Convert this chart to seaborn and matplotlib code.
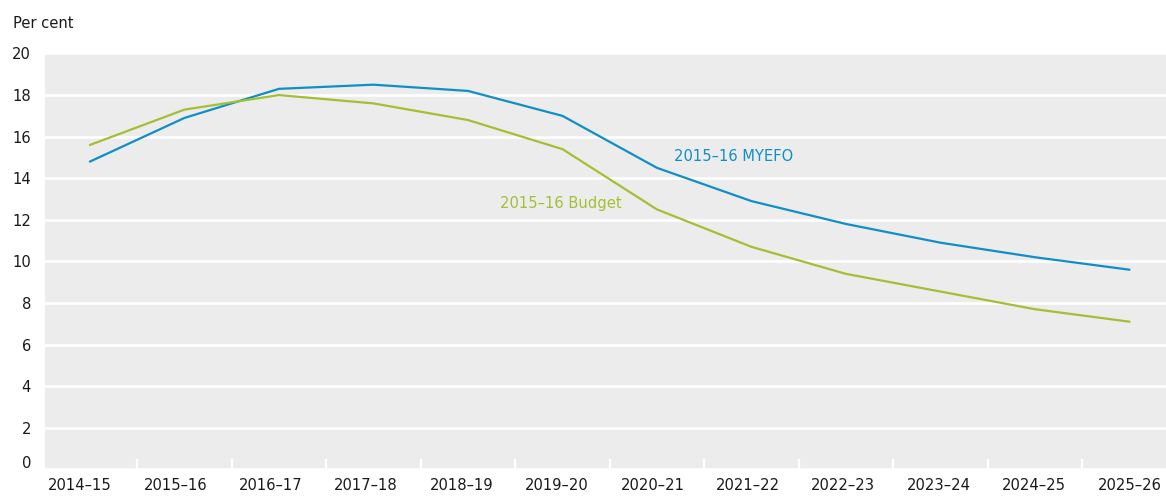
import numpy as np
import pandas as pd
import matplotlib
matplotlib.use("Agg")
import matplotlib.pyplot as plt
import matplotlib.transforms as mtransforms
from matplotlib import font_manager as fm
import seaborn as sns

years = ["2014–15", "2015–16", "2016–17", "2017–18", "2018–19", "2019–20",
         "2020–21", "2021–22", "2022–23", "2023–24", "2024–25", "2025–26"]
myefo = [14.8, 16.9, 18.3, 18.5, 18.2, 17.0, 14.5, 12.9, 11.8, 10.9, 10.2, 9.6]
budget = [15.6, 17.3, 18.0, 17.6, 16.8, 15.4, 12.5, 10.7, 9.4, 8.55, 7.7, 7.1]
series_names = ["2015–16 MYEFO", "2015–16 Budget"]
y_ticks = [0, 2, 4, 6, 8, 10, 12, 14, 16, 18, 20]

BLUE = "#0f8fc6"
GREEN = "#a3bf33"
BG = "#ececec"
TXT = "#1a1a1a"

sns.set_theme(style="darkgrid", rc={
    "axes.facecolor": BG,
    "grid.color": "white",
    "grid.linewidth": 1.9,
    "figure.facecolor": "white",
})

# pick a condensed sans font if one is installed
def _find_condensed():
    best = None
    for f in fm.fontManager.ttflist:
        fn = f.fname.lower()
        nm = f.name.lower()
        if f.style != "normal" or f.weight not in (400, "normal", "regular", "book"):
            continue
        if "liberation" in nm and "narrow" in (nm + fn):
            return f.fname, 13.5
        if "dejavu" in nm and "condensed" in fn and "sans" in fn and "mono" not in fn:
            best = (f.fname, 11.8)
    return best

found = _find_condensed()
if found:
    FP = lambda: fm.FontProperties(fname=found[0], size=found[1])
else:
    FP = lambda: fm.FontProperties(family="Liberation Sans", size=11.6)
plt.rcParams["font.family"] = ["Liberation Sans", "DejaVu Sans"]

df = pd.DataFrame({
    "idx": list(range(len(years))) * 2,
    "value": myefo + budget,
    "series": [series_names[0]] * len(years) + [series_names[1]] * len(years),
})

fig = plt.figure(figsize=(11.66, 4.96), dpi=100)
ax = fig.add_axes([45 / 1166, 1 - 469.3 / 496, 1 - 45 / 1166, (469.3 - 53.5) / 496])

sns.lineplot(data=df, x="idx", y="value", hue="series",
             palette={series_names[0]: BLUE, series_names[1]: GREEN},
             linewidth=1.6, legend=False, ax=ax, sort=False)

ax.set_xlim(-0.475, 11.386)
ax.set_ylim(0, 20)
ax.set_xlabel("")
ax.set_ylabel("")
for s in ax.spines.values():
    s.set_visible(False)
ax.grid(axis="x", visible=False)
ax.grid(axis="y", visible=True)

# y axis
ax.set_yticks(y_ticks)
ax.set_yticklabels([str(v) for v in y_ticks])
ax.tick_params(axis="y", length=0, pad=10, labelcolor=TXT)

# x axis: labels slightly more spread than the data positions (as in the original)
n = len(years)
label_pos = [-0.105 + i * (11.105 / 11) for i in range(n)]
ax.set_xticks(label_pos)
ax.set_xticklabels(years)
ax.set_xticks([i + 0.5 for i in range(n - 1)], minor=True)
ax.tick_params(axis="x", which="major", length=0, pad=6, labelcolor=TXT)
ax.tick_params(axis="x", which="minor", direction="in", length=7.2, width=1.6,
               color="white", bottom=True)

for lab in ax.get_xticklabels() + ax.get_yticklabels():
    lab.set_fontproperties(FP())

# nudge the "0" label up a little like the original
fig.canvas.draw()
lab0 = ax.yaxis.get_major_ticks()[0].label1
lab0.set_transform(lab0.get_transform() +
                   mtransforms.ScaledTranslation(0, 5 / 72, fig.dpi_scale_trans))

ax.text(6.18, 15.05, series_names[0], color=BLUE, fontproperties=FP(),
        va="center", ha="left")
ax.text(4.34, 12.78, series_names[1], color=GREEN, fontproperties=FP(),
        va="center", ha="left")

fig.text(13 / 1166, 1 - 23 / 496, "Per cent", color=TXT, fontproperties=FP(),
         ha="left", va="center")

fig.savefig("out.png", dpi=100)
